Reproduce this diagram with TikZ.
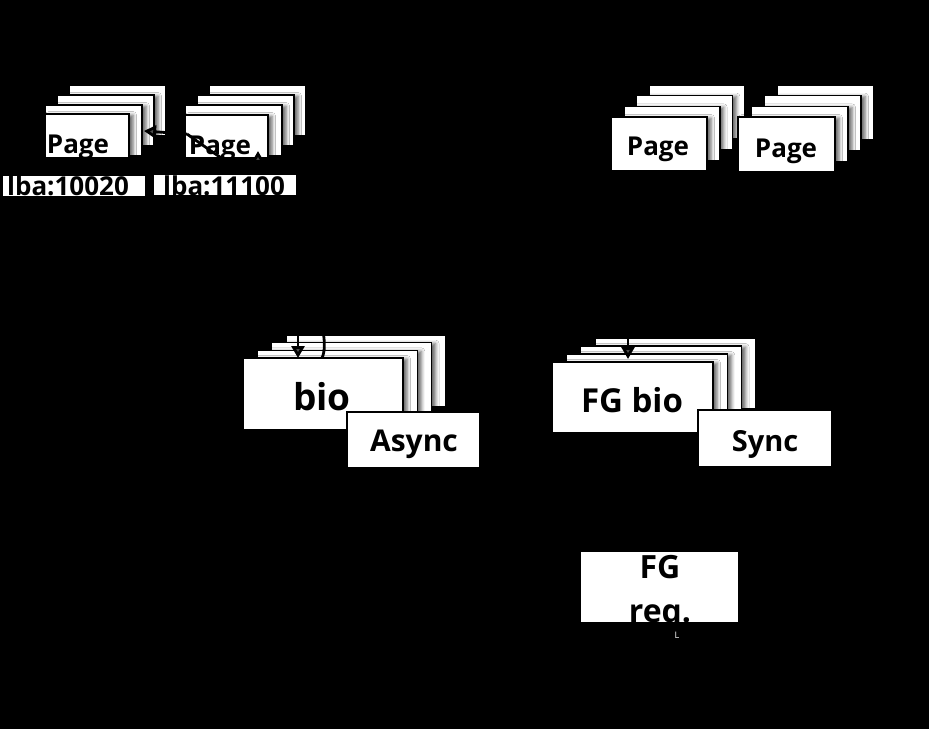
\documentclass[tikz,border=0pt]{standalone}
\usepackage{fontspec}
\setmainfont{Open Sans}
\usepackage{tikz}
\usetikzlibrary{arrows.meta,shadows.blur}
\def\pagestack(#1,#2)(#3,#4)(#5,#6){\foreach \k in {3,2,1} \draw[layer] ({#1+\k*#5},{#2-\k*#6}) rectangle ++(#3,#4);}
\tikzset{
  layer/.style={draw=black, line width=1.6pt, fill=white,
    blur shadow={shadow xshift=4pt, shadow yshift=-1pt, shadow blur radius=3.5pt, shadow opacity=60}},
  tagbox/.style={draw=black, line width=1.2pt, fill=white},
  txt/.style={inner sep=0pt, anchor=base, text=black, font=\fontsize{#1}{#1}\selectfont\bfseries},
  flow/.style={line width=2.8pt, -{Triangle[width=13pt,length=12pt]}}
}
\begin{document}
\begin{tikzpicture}[x=1pt,y=-1pt]
			%%%%% START %%%%%
			\fill[black] (0,0) rectangle (929,729);
			\useasboundingbox (0,0) rectangle (929,729);
			
			% cached pages, left
			\pagestack(33,115)(97,51)(12,10);
			\draw[layer] (45,114) rectangle (129,158);
			\node[txt=26] (pgA) at (78,153) {Page};
			
			\pagestack(173,115)(97,51)(12,10);
			\draw[layer] (185,115) rectangle (268,158);
			\node[txt=26] (pgB) at (220,154) {Page};
			
			\draw[tagbox] (2,175) rectangle (146,197);
			\node[txt=26] (lbaA) at (68,195) {lba:10020};
			\draw[tagbox] (153,174) rectangle (297,196);
			\node[txt=26] (lbaB) at (224,195) {lba:11100};
			
			% pages, right
			\pagestack(611,117)(96,54)(12.7,10.7);
			\draw[layer] (611,117) rectangle ++(96,54);
			\node[txt=26] (pgC) at (658,155) {Page};
			
			\pagestack(738,117)(97,55)(13,10.7);
			\draw[layer] (738,117) rectangle ++(97,55);
			\node[txt=26] (pgD) at (786,157) {Page};
			
			% bio
			\pagestack(243,358)(160,72)(14.3,7.7);
			\draw[layer] (243,358) rectangle ++(160,72);
			\node[txt=37] (bio) at (322,410) {bio};
			\draw[tagbox] (347,412) rectangle (480,468);
			\node[txt=30] (async) at (414,451) {Async};
			
			% FG bio
			\pagestack(552,362)(161,71)(14.3,8);
			\draw[layer] (552,362) rectangle ++(161,71);
			\node[txt=33] (fgbio) at (632,412) {FG bio};
			\draw[tagbox] (698,410) rectangle (832,467);
			\node[txt=29] (sync) at (765,451) {Sync};
			
			% FG req.
			\draw[tagbox] (580,551) rectangle (739,623);
			\node[txt=32] (fgA) at (660,578) {FG};
			\node[txt=32] (fgB) at (660,622) {req.};
			\node[inner sep=0pt, text=white, font=\fontsize{9}{9}\selectfont] (mark) at (677,635) {L};
			
			% connectors
			\coordinate (srcB) at (187,134);
			\coordinate (dstA) at (144,131);
			\coordinate (dstB) at (258,151);
			\draw[flow] (srcB) -- (dstA);
			\draw[flow] (srcB) .. controls (232,166) and (258,185) .. (dstB);
			
			\coordinate (bioIn) at (298,290);
			\coordinate (bioTop) at (298,358);
			\coordinate (bioOut) at (322,358);
			\coordinate (bioUp) at (310,290);
			\draw[flow] (bioIn) -- (bioTop);
			\draw[line width=2.8pt] (bioOut) .. controls (328,345) and (322,318) .. (bioUp);
			
			\coordinate (fgIn) at (628,290);
			\coordinate (fgTop) at (628,359);
			\draw[flow] (fgIn) -- (fgTop);
			%%%%% END %%%%%
		\end{tikzpicture}
\end{document}
